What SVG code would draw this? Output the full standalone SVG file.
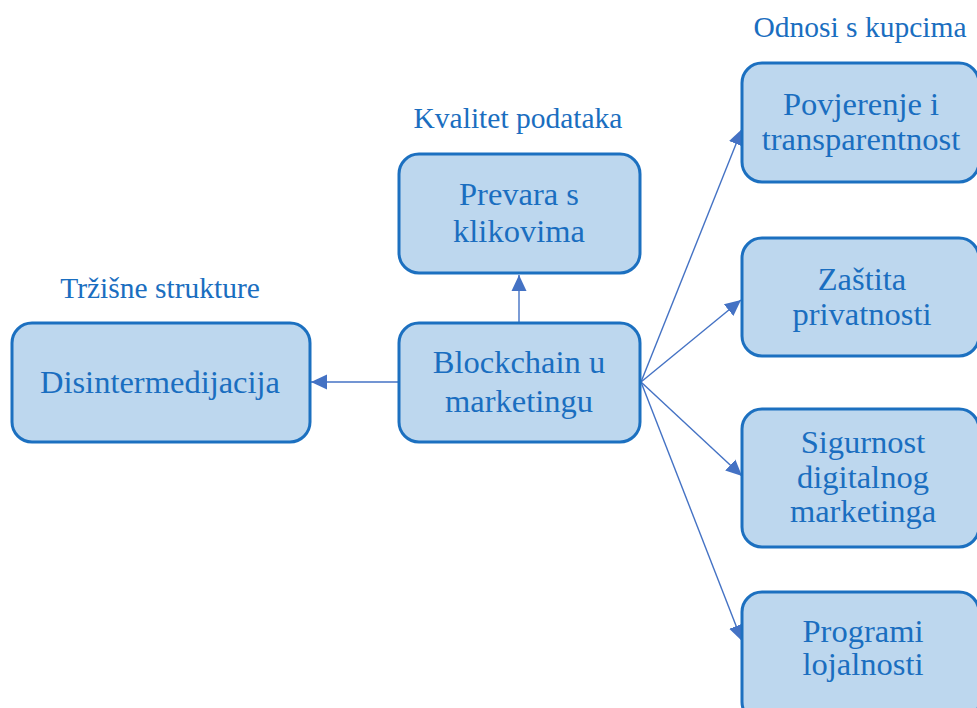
<svg xmlns="http://www.w3.org/2000/svg" width="977" height="708" viewBox="0 0 977 708">
  <style>
    .box { fill: #BDD7EE; stroke: #1C70C0; stroke-width: 3; }
    .txt { font-family: "Liberation Serif", "Times New Roman", serif; fill: #1A6EC0; text-anchor: middle; }
    .node { font-size: 32.5px; }
    .cap { font-size: 29.5px; }
    .link { stroke: #4472C4; stroke-width: 1.4; fill: none; marker-end: url(#arrow); }
  </style>
  <defs>
    <marker id="arrow" markerUnits="userSpaceOnUse" markerWidth="17" markerHeight="17" viewBox="0 0 17 17" refX="16" refY="8.5" orient="auto">
      <path d="M0,1 L16,8.5 L0,16 Z" fill="#4472C4"/>
    </marker>
  </defs>

  <rect width="977" height="708" fill="#FFFFFF"/>

  <!-- group captions -->
  <text class="txt cap" x="160" y="298">Tržišne strukture</text>
  <text class="txt cap" x="518" y="128">Kvalitet podataka</text>
  <text class="txt cap" x="860" y="37">Odnosi s kupcima</text>

  <!-- connectors -->
  <g id="connectors">
    <line class="link" x1="398" y1="382" x2="311" y2="382"/>
    <line class="link" x1="519" y1="322" x2="519" y2="275"/>
    <line class="link" x1="641" y1="382" x2="742" y2="129"/>
    <line class="link" x1="641" y1="382" x2="741" y2="300"/>
    <line class="link" x1="641" y1="382" x2="742" y2="476"/>
    <line class="link" x1="641" y1="382" x2="742" y2="641"/>
  </g>

  <g id="disintermedijacija">
    <rect class="box" x="12" y="323" width="298" height="119" rx="20"/>
    <text class="txt node" x="160" y="393">Disintermedijacija</text>
  </g>

  <g id="blockchain">
    <rect class="box" x="399" y="323" width="241" height="119" rx="20"/>
    <text class="txt node" x="519" y="373">Blockchain u</text>
    <text class="txt node" x="519" y="412">marketingu</text>
  </g>

  <g id="prevara">
    <rect class="box" x="399" y="154" width="241" height="119" rx="20"/>
    <text class="txt node" x="519" y="205">Prevara s</text>
    <text class="txt node" x="519" y="242">klikovima</text>
  </g>

  <g id="povjerenje">
    <rect class="box" x="742" y="63" width="237" height="119" rx="20"/>
    <text class="txt node" x="861" y="115">Povjerenje i</text>
    <text class="txt node" x="861" y="150">transparentnost</text>
  </g>

  <g id="zastita">
    <rect class="box" x="742" y="238" width="237" height="118" rx="20"/>
    <text class="txt node" x="862" y="290">Zaštita</text>
    <text class="txt node" x="862" y="325">privatnosti</text>
  </g>

  <g id="sigurnost">
    <rect class="box" x="742" y="409" width="237" height="138" rx="20"/>
    <text class="txt node" x="863" y="453">Sigurnost</text>
    <text class="txt node" x="863" y="488">digitalnog</text>
    <text class="txt node" x="863" y="522">marketinga</text>
  </g>

  <g id="programi">
    <rect class="box" x="742" y="592" width="237" height="130" rx="20"/>
    <text class="txt node" x="863" y="642">Programi</text>
    <text class="txt node" x="863" y="675">lojalnosti</text>
  </g>
</svg>
